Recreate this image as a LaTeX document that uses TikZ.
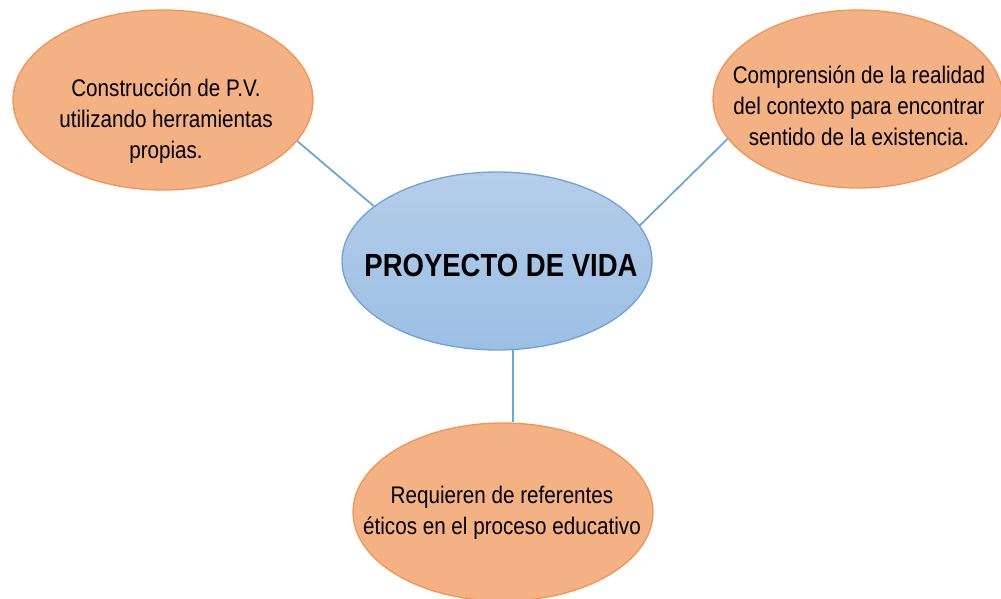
\documentclass[tikz,border=0pt]{standalone}
\usepackage{fontspec}
\setmainfont[FakeStretch=0.86]{Liberation Sans}
\usetikzlibrary{shapes.geometric}
\definecolor{orfill}{HTML}{F4B183}
\definecolor{ordraw}{HTML}{EE9655}
\definecolor{bltop}{HTML}{B5CDEA}
\definecolor{blbot}{HTML}{9BBFE4}
\definecolor{bldraw}{HTML}{6FA3D8}
\definecolor{conncol}{HTML}{6FA6DA}
\tikzset{
  orell/.style={ellipse, draw=ordraw, line width=1.3pt, fill=orfill, inner sep=0pt},
  blell/.style={ellipse, draw=bldraw, line width=1.3pt, top color=bltop, bottom color=blbot, inner sep=0pt,
    minimum width=310pt, minimum height=178pt},
  txt/.style={align=center, font=\fontsize{24}{31}\selectfont, inner sep=0pt},
  conn/.style={draw=conncol, line width=1.8pt}
}
\begin{document}
\begin{tikzpicture}[x=1pt,y=-1pt]
\useasboundingbox (0,0) rectangle (1001,598);
\node[orell, minimum width=300pt, minimum height=180pt] (L) at (163,100) {};
\node[orell, minimum width=290pt, minimum height=178pt] (R) at (858,99) {};
\node[orell, minimum width=300pt, minimum height=178pt] (B) at (503,512) {};
\node[blell] (C) at (497,261) {};
\node[txt] (Lt) at (166,121) {Construcción de P.V.\\utilizando herramientas\\propias.};
\node[txt] (Rt) at (859,106) {Comprensión de la realidad\\del contexto para encontrar\\sentido de la existencia.};
\node[txt] (Bt) at (502,513) {Requieren de referentes\\éticos en el proceso educativo};
\node[txt, font=\fontsize{32}{36}\selectfont\bfseries] (Ct) at (501,265) {PROYECTO DE VIDA};
\draw[conn] (L.-17) -- (C.156);
\draw[conn] (C.14) -- (R.197);
\draw[conn] (C.-80) -- (C.-80 |- B.north);
\end{tikzpicture}
\end{document}
